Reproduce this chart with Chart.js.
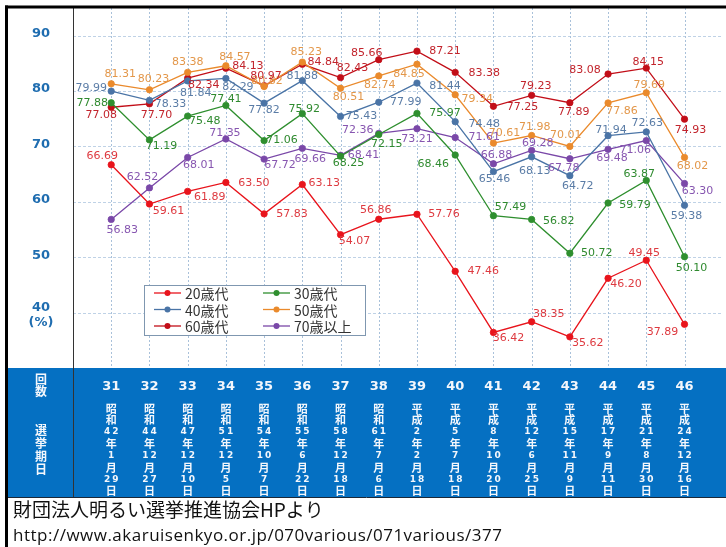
<!DOCTYPE html>
<html>
<head>
<meta charset="utf-8">
<script src="https://cdn.jsdelivr.net/npm/chart.js@4"></script>
<style>
  html, body { margin: 0; padding: 0; background: #fff; }
  #wrap { position: relative; width: 726px; height: 547px; }
  canvas { display: block; }
</style>
</head>
<body>
<div id="wrap"><canvas id="turnout" width="726" height="547"></canvas></div>
<script>
// 衆議院議員総選挙 年代別投票率（%）
const elections = [31, 32, 33, 34, 35, 36, 37, 38, 39, 40, 41, 42, 43, 44, 45, 46];
const eras   = ['昭和','昭和','昭和','昭和','昭和','昭和','昭和','昭和','平成','平成','平成','平成','平成','平成','平成','平成'];
const years  = ['42','44','47','51','54','55','58','61','2','5','8','12','15','17','21','24'];
const months = ['1','12','12','12','10','6','12','7','2','7','10','6','11','9','8','12'];
const days   = ['29','27','10','5','7','22','18','6','18','18','20','25','9','11','30','16'];

const yTicks = [40, 50, 60, 70, 80, 90];
const seriesNames = ['20歳代', '30歳代', '40歳代', '50歳代', '60歳代', '70歳以上'];

const age20 = [66.69, 59.61, 61.89, 63.50, 57.83, 63.13, 54.07, 56.86, 57.76, 47.46, 36.42, 38.35, 35.62, 46.20, 49.45, 37.89];
const age30 = [77.88, 71.19, 75.48, 77.41, 71.06, 75.92, 68.25, 72.15, 75.97, 68.46, 57.49, 56.82, 50.72, 59.79, 63.87, 50.10];
const age40 = [79.99, 78.33, 81.84, 82.29, 77.82, 81.88, 75.43, 77.99, 81.44, 74.48, 65.46, 68.13, 64.72, 71.94, 72.63, 59.38];
const age50 = [81.31, 80.23, 83.38, 84.57, 80.82, 85.23, 80.51, 82.74, 84.85, 79.34, 70.61, 71.98, 70.01, 77.86, 79.69, 68.02];
const age60 = [77.08, 77.70, 82.34, 84.13, 80.97, 84.84, 82.43, 85.66, 87.21, 83.38, 77.25, 79.23, 77.89, 83.08, 84.15, 74.93];
const age70 = [56.83, 62.52, 68.01, 71.35, 67.72, 69.66, 68.41, 72.36, 73.21, 71.61, 66.88, 69.28, 67.78, 69.48, 71.06, 63.30];

// value label placement relative to each point [dx, dy]
const off20 = [[-9,-9],[19,7],[22,6],[28,1],[28,0],[22,-1],[14,6],[-3,-9],[27,0],[28,0],[15,6],[17,-8],[18,6],[18,6],[-2,-7],[-22,8]];
const off30 = [[-19,0],[12,6],[17,5],[0,-6],[18,0],[2,-5],[8,7],[8,10],[28,0],[-22,9],[17,-9],[27,2],[27,0],[27,2],[-7,-6],[7,11]];
const off40 = [[-20,-3],[21,4],[8,12],[12,9],[0,7],[0,-5],[21,0],[27,0],[28,3],[29,2],[1,8],[3,14],[8,10],[3,-6],[1,-9],[2,11]];
const off50 = [[9,-10],[4,-11],[0,-10],[9,-9],[3,-5],[4,-10],[8,9],[1,9],[-8,10],[22,4],[11,-10],[3,-8],[-4,-11],[14,8],[3,-8],[8,9]];
const off60 = [[-10,8],[7,11],[16,7],[22,-2],[2,-10],[21,-2],[12,-9],[-12,-7],[28,0],[29,1],[29,1],[4,-9],[4,9],[-23,-4],[2,-6],[6,11]];
const off70 = [[11,11],[-7,-11],[11,8],[-1,-6],[16,6],[8,11],[23,0],[-21,-3],[0,10],[29,0],[3,-9],[6,-7],[-6,9],[4,9],[-11,10],[13,8]];

const lineColors  = ['#e8141c', '#2f8f2f', '#4a74a6', '#ea8a2c', '#c20e18', '#7a48a8'];
const labelColors = ['#de3a40', '#2f8a2f', '#5a7ca6', '#e3974a', '#c2242c', '#8756b0'];

const values  = [age20, age30, age40, age50, age60, age70];
const offsets = [off20, off30, off40, off50, off60, off70];

const datasets = seriesNames.map((name, s) => ({
  label: name,
  data: elections.map((e, i) => ({ x: e, y: values[s][i] })),
  borderColor: lineColors[s],
  backgroundColor: lineColors[s],
  pointBackgroundColor: lineColors[s],
  pointBorderColor: lineColors[s],
  borderWidth: 1.3,
  pointRadius: 3.2,
  pointBorderWidth: 0.8,
  tension: 0,
  labelOffsets: offsets[s],
  labelColor: labelColors[s]
}));

const BAND_TOP = 368, BAND_BOTTOM = 497, AXIS_X = 73;

const backdrop = {
  id: 'backdrop',
  beforeDraw(chart) {
    const { ctx, scales: { x, y }, chartArea: a } = chart;
    ctx.save();
    ctx.fillStyle = '#fff';
    ctx.fillRect(0, 0, chart.width, chart.height);

    // horizontal grid
    ctx.strokeStyle = '#bfd2e6';
    ctx.lineWidth = 1;
    ctx.setLineDash([3, 2]);
    yTicks.forEach(v => {
      const py = Math.round(y.getPixelForValue(v)) + 0.5;
      ctx.beginPath(); ctx.moveTo(a.left, py); ctx.lineTo(a.right, py); ctx.stroke();
    });
    // vertical grid
    ctx.strokeStyle = '#a9c1da';
    ctx.setLineDash([2, 2]);
    elections.forEach(e => {
      const px = Math.round(x.getPixelForValue(e)) + 0.5;
      ctx.beginPath(); ctx.moveTo(px, a.top); ctx.lineTo(px, a.bottom); ctx.stroke();
    });
    ctx.setLineDash([]);

    // y tick labels
    ctx.fillStyle = '#1f6db0';
    ctx.font = 'bold 13px "DejaVu Sans"';
    ctx.textAlign = 'center';
    ctx.textBaseline = 'middle';
    yTicks.forEach(v => {
      const py = y.getPixelForValue(v);
      ctx.fillText(String(v), 41, v === 40 ? py - 5 : py - 2);
    });
    ctx.fillText('(%)', 41, y.getPixelForValue(40) + 10);
    ctx.restore();
  }
};

const valueLabels = {
  id: 'valueLabels',
  afterDatasetsDraw(chart) {
    const { ctx } = chart;
    ctx.save();
    ctx.font = '11px "DejaVu Sans"';
    ctx.textAlign = 'center';
    ctx.textBaseline = 'middle';
    chart.data.datasets.forEach((ds, s) => {
      const meta = chart.getDatasetMeta(s);
      ctx.fillStyle = ds.labelColor;
      meta.data.forEach((pt, i) => {
        const [dx, dy] = ds.labelOffsets[i];
        ctx.fillText(ds.data[i].y.toFixed(2), pt.x + dx, pt.y + dy);
      });
    });

    // legend box
    const bx = 144, by = 285, bw = 221, bh = 50;
    ctx.fillStyle = '#fff';
    ctx.fillRect(bx, by, bw, bh);
    ctx.strokeStyle = '#7f97b0';
    ctx.lineWidth = 1;
    ctx.strokeRect(bx + 0.5, by + 0.5, bw, bh);
    const colX = [154, 263], rowY = [293, 309.5, 326];
    ctx.textAlign = 'left';
    ctx.font = '14px "Noto Sans CJK JP"';
    chart.data.datasets.forEach((ds, s) => {
      const lx = colX[s % 2], ly = rowY[Math.floor(s / 2)];
      ctx.strokeStyle = ds.borderColor;
      ctx.lineWidth = 1.3;
      ctx.beginPath(); ctx.moveTo(lx, ly); ctx.lineTo(lx + 27, ly); ctx.stroke();
      ctx.fillStyle = ds.borderColor;
      ctx.beginPath(); ctx.arc(lx + 13.5, ly, 3, 0, Math.PI * 2); ctx.fill();
      ctx.fillStyle = '#333';
      ctx.fillText(ds.label, lx + 31, ly + 1);
    });
    ctx.restore();
  }
};

const band = {
  id: 'band',
  afterDraw(chart) {
    const { ctx, scales: { x } } = chart;
    ctx.save();
    // election table band
    ctx.fillStyle = '#0570c2';
    ctx.fillRect(7, BAND_TOP, chart.width - 7, BAND_BOTTOM - BAND_TOP);
    ctx.strokeStyle = '#1b2838';
    ctx.lineWidth = 1;
    ctx.beginPath(); ctx.moveTo(7, BAND_BOTTOM + 0.5); ctx.lineTo(chart.width, BAND_BOTTOM + 0.5); ctx.stroke();

    // column separator
    ctx.strokeStyle = '#333';
    ctx.beginPath(); ctx.moveTo(AXIS_X + 0.5, 8); ctx.lineTo(AXIS_X + 0.5, BAND_BOTTOM); ctx.stroke();

    // outer frame
    ctx.strokeStyle = '#000';
    ctx.lineWidth = 3;
    ctx.beginPath(); ctx.moveTo(5, 7); ctx.lineTo(chart.width, 7); ctx.stroke();
    ctx.beginPath(); ctx.moveTo(6.5, 5.5); ctx.lineTo(6.5, chart.height); ctx.stroke();

    // table headings
    ctx.fillStyle = '#f4f7fc';
    ctx.textAlign = 'center';
    ctx.textBaseline = 'middle';
    ctx.font = 'bold 12px "Noto Sans CJK JP"';
    ['回', '数'].forEach((c, k) => ctx.fillText(c, 41, 379 + k * 12));
    ['選', '挙', '期', '日'].forEach((c, k) => ctx.fillText(c, 41, 430 + k * 13.3));

    elections.forEach((e, i) => {
      const px = x.getPixelForValue(e);
      ctx.font = 'bold 13px "DejaVu Sans"';
      ctx.fillText(String(e), px, 387);
      const tokens = [eras[i][0], eras[i][1], years[i], '年', months[i], '月', days[i], '日'];
      tokens.forEach((t, k) => {
        const ty = 408.5 + k * 11.8;
        if (/\d/.test(t)) {
          ctx.font = 'bold 9px "DejaVu Sans"';
          ctx.letterSpacing = '2px';
          ctx.fillText(t, px + 1, ty);
          ctx.letterSpacing = '0px';
        } else {
          ctx.font = 'bold 11px "Noto Sans CJK JP"';
          ctx.fillText(t, px, ty);
        }
      });
    });

    // source note
    ctx.fillStyle = '#111';
    ctx.textAlign = 'left';
    ctx.font = '19px "Noto Sans CJK JP"';
    ctx.fillText('財団法人明るい選挙推進協会HPより', 13, 510);
    ctx.font = '17px "Open Sans"';
    ctx.letterSpacing = '0.5px';
    ctx.fillText('http://www.akaruisenkyo.or.jp/070various/071various/377', 13, 536);
    ctx.letterSpacing = '0px';
    ctx.restore();
  }
};

new Chart(document.getElementById('turnout'), {
  type: 'line',
  data: { datasets },
  options: {
    responsive: false,
    animation: false,
    devicePixelRatio: 1,
    layout: { padding: { left: AXIS_X, top: 8, right: 0, bottom: 547 - BAND_TOP } },
    scales: {
      x: { type: 'linear', min: 30, max: 46.96, display: false },
      y: { type: 'linear', min: 30, max: 95, display: false }
    },
    plugins: { legend: { display: false }, tooltip: { enabled: false } }
  },
  plugins: [backdrop, valueLabels, band]
});
</script>
</body>
</html>
